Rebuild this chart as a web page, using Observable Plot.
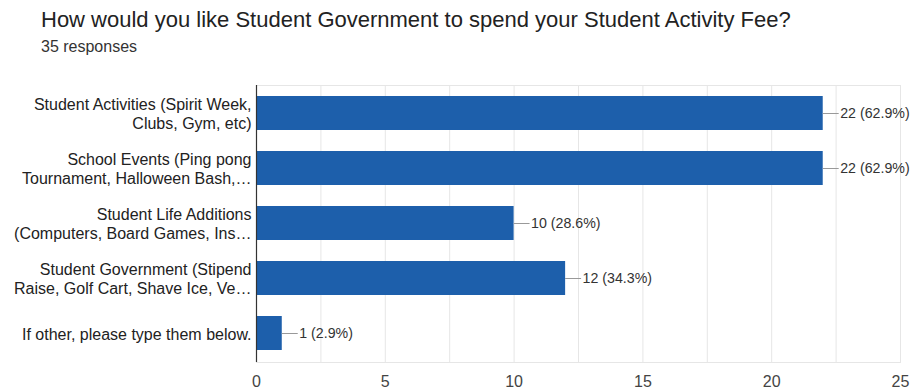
<!DOCTYPE html>
<html>
<head>
<meta charset="utf-8">
<script src="https://cdn.jsdelivr.net/npm/d3@7"></script>
<script src="https://cdn.jsdelivr.net/npm/@observablehq/plot@0.6"></script>
<style>
  body { margin: 0; background: #fff; font-family: "Liberation Sans", Arial, sans-serif; }
  #wrap { width: 917px; }
  #head { position: relative; height: 65px; }
  #title { position: absolute; left: 41px; top: 7px; font-size: 22px; color: #222; white-space: nowrap; }
  #sub { position: absolute; left: 41px; top: 38px; font-size: 16px; color: #333; white-space: nowrap; }
</style>
</head>
<body>
<div id="wrap">
  <div id="head">
    <div id="title">How would you like Student Government to spend your Student Activity Fee?</div>
    <div id="sub">35 responses</div>
  </div>
  <div id="chart"></div>
</div>
<script>
const categories = [
  "Student Activities (Spirit Week,\nClubs, Gym, etc)",
  "School Events (Ping pong\nTournament, Halloween Bash,…",
  "Student Life Additions\n(Computers, Board Games, Ins…",
  "Student Government (Stipend\nRaise, Golf Cart, Shave Ice, Ve…",
  "If other, please type them below."
];
const counts = [22, 22, 10, 12, 1];
const percents = ["62.9%", "62.9%", "28.6%", "34.3%", "2.9%"];
const xTicks = [0, 5, 10, 15, 20, 25];
const gridTicks = [0, 2.5, 5, 7.5, 10, 12.5, 15, 17.5, 20, 22.5, 25];

const data = categories.map((c, i) => ({cat: c, n: counts[i], label: `${counts[i]} (${percents[i]})`}));

const chart = Plot.plot({
  width: 917,
  height: 325,
  marginTop: 20,
  marginBottom: 28,
  marginLeft: 256,
  marginRight: 17,
  style: {fontFamily: "'Liberation Sans', Arial, sans-serif", background: "#fff"},
  x: {domain: [0, 25]},
  y: {domain: categories, paddingInner: 0.38, paddingOuter: 0.19},
  marks: [
    Plot.frame({stroke: "#e6e6e6"}),
    Plot.gridX(gridTicks, {stroke: "#e6e6e6", strokeOpacity: 1}),
    Plot.barX(data, {x: "n", y: "cat", fill: "#1d5fab"}),
    Plot.ruleX([0], {stroke: "#333", strokeWidth: 1.2}),
    Plot.ruleY(data, {y: "cat", x1: "n", x2: d => d.n + 0.62, stroke: "#999"}),
    Plot.text(data, {y: "cat", x: "n", text: "label", dx: 17, textAnchor: "start", fontSize: 14.2, fill: "#333"}),
    Plot.text(data, {y: "cat", x: 0, text: "cat", dx: -5, textAnchor: "end", fontSize: 16, lineHeight: 1.2, fill: "#222"}),
    Plot.axisX(xTicks, {tickSize: 0, tickPadding: 13, fontSize: 16, color: "#444", label: null}),
    Plot.axisY({ticks: [], label: null, tickSize: 0})
  ]
});
document.getElementById("chart").appendChild(chart);
</script>
</body>
</html>
